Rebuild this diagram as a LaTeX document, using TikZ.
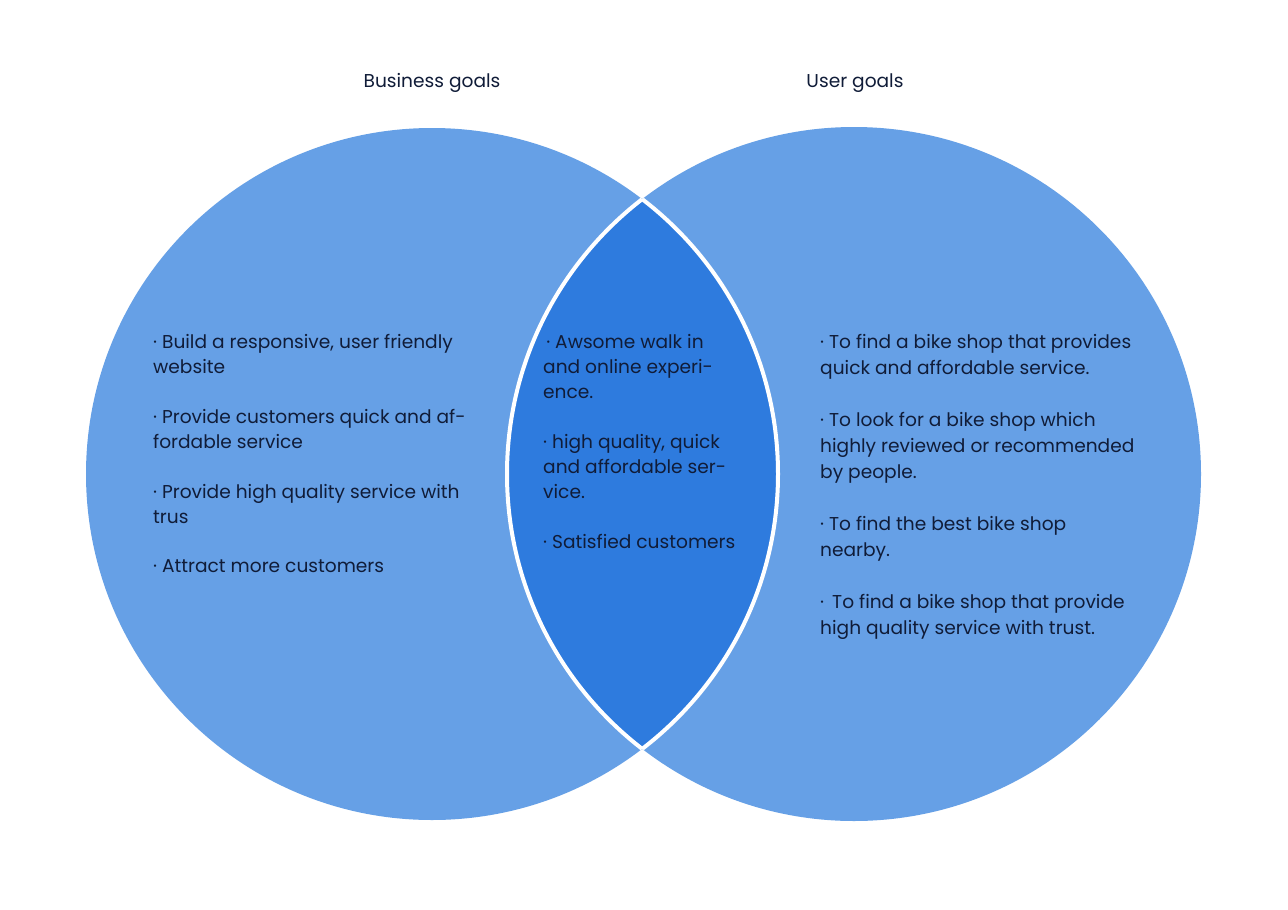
\documentclass[tikz,border=0pt]{standalone}
\usepackage{fontspec}
\setmainfont{Poppins}
\definecolor{circ}{RGB}{102,160,230}
\definecolor{lens}{RGB}{46,123,222}
\definecolor{ink}{RGB}{16,28,56}
\begin{document}
\begin{tikzpicture}[x=1pt,y=-1pt,
  txt/.style={anchor=north west,inner sep=0pt,align=left,text=ink,font=\fontsize{18.6}{25}\selectfont},
  rtxt/.style={txt,font=\fontsize{18.6}{26}\selectfont},
  head/.style={inner sep=0pt,text=ink,font=\fontsize{18.6}{25}\selectfont}]
\useasboundingbox (0,0) rectangle (1288,910);
\fill[white] (0,0) rectangle (1288,910);
% circles
\coordinate (cl) at (432,474);
\coordinate (cr) at (854,474);
\fill[circ] (cl) circle[radius=346];
\fill[circ] (cr) circle[radius=347];
\begin{scope}
  \clip (cl) circle[radius=346];
  \fill[lens] (cr) circle[radius=347];
\end{scope}
\begin{scope}
  \clip (cl) circle[radius=346];
  \draw[white,line width=4] (cr) circle[radius=347];
\end{scope}
\begin{scope}
  \clip (cr) circle[radius=347];
  \draw[white,line width=4] (cl) circle[radius=346];
\end{scope}
% headings
\node[head] (hb) at (432,83) {Business goals};
\node[head] (hu) at (855,83) {User goals};
% left
\node[txt] (l1) at (153,334) {· Build a responsive, user friendly\\website};
\node[txt] (l2) at (153,409) {· Provide customers quick and af-\\fordable service};
\node[txt] (l3) at (153,484) {· Provide high quality service with\\trus};
\node[txt] (l4) at (153,559) {· Attract more customers};
% middle
\node[txt] (m1) at (543,334) {\,· Awsome walk in\\and online experi-\\ence.};
\node[txt] (m2) at (543,434) {· high quality, quick\\and affordable ser-\\vice.};
\node[txt] (m3) at (543,534) {· Satisfied customers};
% right
\node[rtxt] (r1) at (820,334) {· To find a bike shop that provides\\quick and affordable service.};
\node[rtxt] (r2) at (820,412) {· To look for a bike shop which\\highly reviewed or recommended\\by people.};
\node[rtxt] (r3) at (820,516) {· To find the best bike shop\\nearby.};
\node[rtxt] (r4) at (820,594) {·\, To find a bike shop that provide\\high quality service with trust.};
\end{tikzpicture}
\end{document}
